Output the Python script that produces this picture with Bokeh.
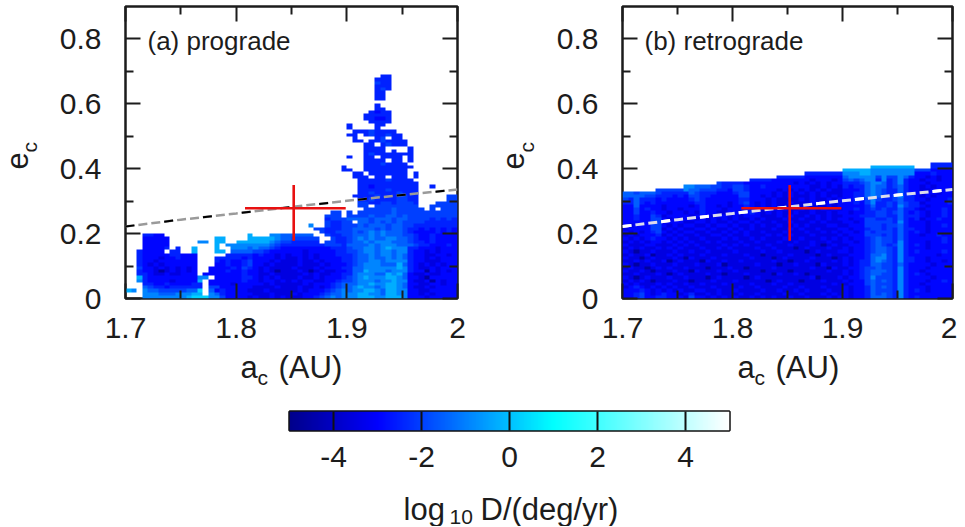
import numpy as np
from bokeh.plotting import figure
from bokeh.layouts import column, row
from bokeh.models import (LinearColorMapper, FixedTicker, LinearAxis, Label, Range1d)
from bokeh.embed import file_html
from bokeh.resources import INLINE

# log10 D value of each grid code; '.' means no cell
code_values = {"1": -4.6, "2": -3.5, "3": -2.9, "4": -2.5, "5": -2.0, "6": -1.5,
               "7": -0.9, "8": -0.3, "9": 0.3}
E = ".........."
# one string per eccentricity row, top row first; 60 cells of 0.005 AU, rows of 0.01
prograde_top_row = 68
prograde_rows = [
 E+E+E+E+"......44.."+E,
 E+E+E+E+".....444.."+E,
 E+E+E+E+".....544.."+E,
 E+E+E+E+".....444.."+E,
 E+E+E+E+".....454.."+E,
 E+E+E+E+".....44..."+E,
 E+E+E+E+".....44..."+E,
 E+E+E+E+".....44..."+E,
 E+E+E+E+E+E,
 E+E+E+E+".....4...."+E,
 E+E+E+E+".....44..."+E,
 E+E+E+E+"....4344.."+E,
 E+E+E+E+"...44444.."+E,
 E+E+E+E+"...44334.."+E,
 E+E+E+E+"....4444.."+E,
 E+E+E+E+"4....44..."+E,
 E+E+E+E+"4....4...."+E,
 E+E+E+E+".44454444."+E,
 E+E+E+E+"44.4544544"+E,
 E+E+E+E+".4...45.44"+E,
 E+E+E+E+".44.445444"+"4.........",
 E+E+E+E+"...44.4544"+"4.........",
 E+E+E+E+"...4444..."+".4........",
 E+E+E+E+"...4444.4."+".4........",
 E+E+E+E+"...4544444"+"44........",
 E+E+E+E+"4..44.4444"+".4........",
 E+E+E+E+"...4444.44"+".4........",
 E+E+E+E+"...4445444"+"4.........",
 E+E+E+".........4"+"...4444444"+"44........",
 E+E+E+".........4"+"4..4444444"+"4.........",
 E+E+E+E+".44.444444"+"4.4.......",
 E+E+E+E+".444.44.44"+"4.4.......",
 E+E+E+E+"..44444544"+"44........",
 E+E+E+E+"..44444444"+"444.......",
 E+E+E+E+"..44344444"+"444..4....",
 E+E+E+E+"..44444544"+"444.......",
 E+E+E+E+"..44544445"+"444.......",
 E+E+E+E+".444454445"+"544.....55",
 E+E+E+E+"..44544445"+"544.....55",
 E+E+E+E+"..55445545"+"554...5555",
 E+E+E+E+"..55.55555"+"555..55555",
 E+E+E+E+"...5555565"+"5555.5.555",
 E+E+E+".......55."+"5.55555565"+"5555555555",
 E+E+E+"......555."+"5555655665"+"6555555555",
 E+E+E+"......4555"+"6666566656"+"6555545454",
 E+E+E+"......5445"+"5.66565656"+"5555444444",
 E+E+E+"...7..5445"+"5565666566"+"5544444444",
 E+E+E+"....554445"+"5666656566"+"5443434343",
 E+E+E+".....54455"+"5656767666"+"5433334343",
 "...4433..."+E+"..8...7766"+"6666..5445"+"5666767666"+"5543343333",
 "...33333.."+"......88.."+"..88888766"+"55555..544"+"5676766776"+"6543343333",
 "...33333.."+"...77.88.."+"8888887655"+"44444.5544"+"5667677766"+"6544343333",
 "...33333.."+"......8.77"+"7777776544"+"4444445554"+"6666767776"+"6654433343",
 "...33334.4"+"..8...8..7"+"7767665433"+"3333333444"+"5667767877"+"7443332333",
 "..43333.44"+"..8...88.6"+"6665543333"+"3323333344"+"5567767767"+"7433232333",
 "..43333344"+"333.....44"+"4443433232"+"3323233344"+"4566767767"+"6433223323",
 "..43332334"+"333...4444"+"4343333232"+"2323233334"+"4566766767"+"6433232333",
 "..43323333"+"333...4343"+"3453332322"+"2322323334"+"4566776777"+"7433222333",
 "..43232333"+"333...3343"+"3453323222"+"2322232333"+"4567776668"+"6432323233",
 "..53323232"+"323..33334"+"3543232222"+"3222323334"+"4667777778"+"7432232333",
 "..43321232"+"323..33343"+"3433232122"+"2321232233"+"4668777677"+"7433132323",
 "..44322322"+"333.333333"+"3433223222"+"2232322334"+"4677766878"+"6322322333",
 "..84333333"+"33377.3333"+"3443232322"+"2322323334"+"5678777887"+"6332133333",
 "..74333323"+"3338.33333"+"3433233232"+"3233223345"+"5677767787"+"7322313233",
 "...4433433"+"3344.33332"+"3333323222"+"2232333456"+"6677877887"+"6332233233",
 "...6544344"+"4444.55333"+"3332222322"+"2322323456"+"6787767887"+"6322323333",
 "87.7665555"+"5669.63433"+"3322232222"+"2323334567"+"6778876887"+"7332233333",
 "...7776667"+"7788.76433"+"3332223222"+"3233345667"+"7788776887"+"7332323333",
 "...7777777"+"7899977533"+"3323223232"+"2233456767"+"7788877888"+"7333233333",
]
retrograde_top_row = 41
retrograde_rows = [
 E+E+E+E+E+"......4444",
 E+E+E+E+".....88888"+"888...4444",
 E+E+E+E+"8888877777"+"7775553333",
 E+E+E+"...4444444"+"7778877777"+"7773334333",
 E+E+"........44"+"4443333333"+"6777775755"+"7643323233",
 E+E+"...4444333"+"3333233323"+"5656774745"+"7433233233",
 E+".......544"+"4433333333"+"3232323233"+"4445677645"+"7433323333",
 E+".776665544"+"5543343333"+"3333223232"+"4344676645"+"6433232333",
 "......5555"+"5766555443"+"5543333323"+"2323232322"+"3334676544"+"6433223333",
 "6656665444"+"4465444333"+"4553333232"+"3232323222"+"3344676544"+"6433233233",
 "6666554443"+"4355443333"+"3553323232"+"3222323232"+"3344676545"+"7443232333",
 "5464443433"+"3345433333"+"3443332322"+"2232322323"+"3343575445"+"6443323334",
 "4464343333"+"3334433332"+"3453232322"+"3222332323"+"3343574454"+"6544233334",
 "3363333233"+"3323433232"+"3343232322"+"2323222323"+"3333464454"+"7544323333",
 "3353433233"+"2333433323"+"3343322323"+"2232323232"+"3343454544"+"6443233343",
 "3353343323"+"3232433223"+"3234323232"+"2322322323"+"3233445545"+"6434323343",
 "3343354233"+"3323332332"+"3233322232"+"3223232322"+"3334445544"+"6444323343",
 "3343355323"+"2332323232"+"3223232223"+"2232232323"+"3233554454"+"6434233433",
 "3333355233"+"3223323223"+"2332322322"+"3222323222"+"3323555554"+"7433323333",
 "3233355323"+"2332232332"+"3223232232"+"2323222332"+"2333555455"+"6433323343",
 "2333355232"+"3223323223"+"2323222322"+"3232232223"+"3233455454"+"6443323333",
 "3232345323"+"2332232232"+"3232232223"+"2223223232"+"3323545554"+"6434323333",
 "2323334232"+"3223223323"+"2232223232"+"3222322223"+"2333555454"+"6433233433",
 "3232343323"+"2322322232"+"3223232223"+"2232223232"+"3233456554"+"6433333343",
 "2323233232"+"3232232322"+"2322322232"+"2322322322"+"3323456554"+"7433323343",
 "3222332223"+"2323222232"+"3232223222"+"3222321232"+"2333456545"+"7434323333",
 "2323223232"+"3222322323"+"2222322322"+"2123222322"+"3233456654"+"7433323333",
 "3212232223"+"2232232222"+"3222232232"+"2221232223"+"3233456654"+"7434333343",
 "2322312232"+"3222322232"+"2232212222"+"3222212322"+"2333466754"+"7433333233",
 "3221232223"+"2132223222"+"2223222123"+"2222322212"+"3233467754"+"7443323333",
 "2232322312"+"3222132232"+"2322222322"+"1223222232"+"3234467654"+"7443323323",
 "3212232223"+"2223222312"+"2222322212"+"2322213222"+"3234466554"+"6433332333",
 "2322123232"+"2322212223"+"2212222322"+"2222322132"+"2334556554"+"7433323333",
 "3223212223"+"2213222322"+"3222212222"+"1222222322"+"3234566654"+"7433233333",
 "2232223212"+"3222232212"+"2232222132"+"2321222222"+"3234566554"+"7434323333",
 "3212322232"+"2322212322"+"2212322222"+"2222312223"+"2334575554"+"7433332333",
 "2323212223"+"2212223222"+"3222221232"+"2212223222"+"3233565654"+"7433323343",
 "3232223232"+"2322322232"+"2223222322"+"3222222232"+"2333565554"+"7433233333",
 "2343232323"+"2232223222"+"2322322223"+"2232223222"+"3233465654"+"7433323333",
 "3334323232"+"3223322322"+"3222232232"+"2323222322"+"3233465554"+"7434323333",
 "3345323433"+"2342232322"+"2322322223"+"2232223232"+"3233465654"+"7433333333",
 "3345334433"+"3253323232"+"3223232322"+"3223222323"+"3233466654"+"7434333333",
]
# the constant-perihelion curve and the object with its error bars
curve_a = [1.7, 1.75, 1.8, 1.85, 1.9, 1.95, 2.0]
curve_e = [0.222, 0.243, 0.262, 0.282, 0.301, 0.319, 0.336]
obj_a, obj_e = 1.852, 0.278
obj_a_range = [1.808, 1.899]
obj_e_range = [0.178, 0.350]

x_ticks = [1.7, 1.8, 1.9, 2.0]
x_minor = [1.75, 1.85, 1.95]
x_labels = {1.7: "1.7", 1.8: "1.8", 1.9: "1.9", 2.0: "2"}
y_ticks = [0, 0.2, 0.4, 0.6, 0.8]
y_minor = [0.1, 0.3, 0.5, 0.7]
y_labels = {0: "0", 0.2: "0.2", 0.4: "0.4", 0.6: "0.6", 0.8: "0.8"}
cb_ticks = [-4, -2, 0, 2, 4]
cb_labels = {-4: "-4", -2: "-2", 0: "0", 2: "2", 4: "4"}
panel_titles = ["(a) prograde", "(b) retrograde"]

FONT = "Liberation Sans"
INK = "#1c1c1c"
TICK_SIZE = "30px"
BIG, SMALL = "31px", "21px"

anchors = [(-5, (0, 0, 139)), (-3, (0, 0, 255)), (-1, (0, 128, 255)),
           (1, (0, 255, 255)), (5, (255, 255, 255))]
levels = np.linspace(-5, 5, 256)
xs = [a[0] for a in anchors]
pal = ["#%02x%02x%02x" % tuple(int(round(np.interp(v, xs, [a[1][k] for a in anchors]))) for k in range(3))
       for v in levels]
mapper = LinearColorMapper(palette=pal, low=-5, high=5, nan_color=(0, 0, 0, 0))


def grid(rows, top):
    out = np.full((90, 60), np.nan, dtype=float)
    for n, r in enumerate(rows):
        for c, ch in enumerate(r[:60]):
            if ch in code_values:
                out[top - n, c] = code_values[ch]
    return out


def style(ax, labels):
    ax.major_tick_in = 15
    ax.major_tick_out = 0
    ax.minor_tick_in = 8
    ax.minor_tick_out = 0
    ax.major_tick_line_width = 2
    ax.minor_tick_line_width = 2
    ax.major_tick_line_color = INK
    ax.minor_tick_line_color = INK
    ax.axis_line_color = None
    if labels:
        ax.major_label_text_font = FONT
        ax.major_label_text_font_size = TICK_SIZE
        ax.major_label_text_color = INK


def label(p, text, px, py, size, angle=0.0):
    p.add_layout(Label(x=px, y=py, text=text, text_font=FONT, text_font_size=size, text_color=INK,
                       angle=angle, text_align="left", text_baseline="alphabetic"))


def strip(x_left, y_top, w, h, items):
    """A bare figure whose frame is a piece of the page, holding text given in page pixels."""
    s = figure(output_backend="svg", toolbar_location=None, frame_width=w, frame_height=h,
               x_range=Range1d(x_left, x_left + w), y_range=Range1d(y_top + h, y_top),
               x_axis_location=None, y_axis_location=None,
               min_border_left=0, min_border_right=0, min_border_top=0, min_border_bottom=0,
               border_fill_color=None, background_fill_color=None)
    s.grid.visible = False
    s.outline_line_color = None
    for it in items:
        label(s, *it)
    return s


def panel(rows, top, title, frame_w, left, right, halo, halo_w, core, core_w):
    p = figure(output_backend="svg", toolbar_location=None, frame_width=frame_w, frame_height=292,
               x_range=Range1d(1.7, 2.0), y_range=Range1d(0, 0.9),
               min_border_left=left, min_border_right=right, min_border_top=6, min_border_bottom=50,
               background_fill_color="white", border_fill_color=None)
    p.grid.visible = False
    p.outline_line_color = INK
    p.outline_line_width = 2.5
    p.image(image=[grid(rows, top)], x=1.7, y=0, dw=0.3, dh=0.9, color_mapper=mapper, level="image")
    p.line(curve_a, curve_e, line_color=halo, line_width=halo_w, line_dash="9 4")
    p.line(curve_a, curve_e, line_color=core, line_width=core_w, line_dash="9 30")
    p.line(obj_a_range, [obj_e, obj_e], line_color="#e81010", line_width=2.6)
    p.line([obj_a, obj_a], obj_e_range, line_color="#e81010", line_width=2.6)

    xa, ya = p.xaxis[0], p.yaxis[0]
    style(xa, True)
    style(ya, True)
    xa.ticker = FixedTicker(ticks=x_ticks, minor_ticks=x_minor)
    xa.major_label_overrides = x_labels
    xa.major_label_standoff = 19
    ya.ticker = FixedTicker(ticks=y_ticks, minor_ticks=y_minor)
    ya.major_label_overrides = y_labels
    ya.major_label_standoff = 24
    top_ax = LinearAxis(ticker=FixedTicker(ticks=x_ticks, minor_ticks=x_minor),
                        major_label_overrides={t: "" for t in x_ticks}, major_label_standoff=0,
                        major_label_text_font_size="1px")
    right_ax = LinearAxis(ticker=FixedTicker(ticks=y_ticks, minor_ticks=y_minor),
                          major_label_overrides={t: "" for t in y_ticks}, major_label_standoff=0,
                          major_label_text_font_size="1px")
    style(top_ax, False)
    style(right_ax, False)
    p.add_layout(top_ax, "above")
    p.add_layout(right_ax, "right")
    label(p, title, 1.7 + 22 / (frame_w / 0.3), (298 - 40) / 292 * 0.9, "26px")
    return p


p1 = panel(prograde_rows, prograde_top_row, panel_titles[0], 332, 80, 20, "#9a9a9a", 2.5, "#000000", 2)
p2 = panel(retrograde_rows, retrograde_top_row, panel_titles[1], 330, 77, 5, "#dcdcec", 3, "#ffffff", 3)

e_left = strip(0, 0, 45, 348, [("e", 16, 163, BIG, np.pi / 2), ("c", 29, 146, SMALL, np.pi / 2)])
e_mid = strip(477, 0, 68, 348, [("e", 512, 163, BIG, np.pi / 2), ("c", 526, 146, SMALL, np.pi / 2)])
x_titles = strip(0, 348, 949, 54, [
    ("a", 240, 367, BIG), ("c", 257, 377, SMALL), ("(AU)", 278, 367, BIG),
    ("a", 737, 367, BIG), ("c", 754, 377, SMALL), ("(AU)", 775, 367, BIG)])

p3 = figure(output_backend="svg", toolbar_location=None, frame_width=440, frame_height=19,
            x_range=Range1d(-5, 5), y_range=Range1d(0, 1),
            min_border_left=289, min_border_right=5, min_border_top=9, min_border_bottom=52,
            border_fill_color=None)
p3.grid.visible = False
p3.outline_line_color = "#111111"
p3.outline_line_width = 2.5
p3.yaxis.visible = False
p3.image(image=[levels.reshape(1, -1)], x=-5, y=0, dw=10, dh=1, color_mapper=mapper, level="image")
ax3 = p3.xaxis[0]
style(ax3, True)
ax3.ticker = FixedTicker(ticks=cb_ticks, minor_ticks=[])
ax3.major_tick_in = 19
ax3.major_tick_line_color = "#111111"
ax3.major_label_overrides = cb_labels
ax3.major_label_standoff = 16

cb_title = strip(0, 482, 949, 44, [("log", 403, 509, BIG), ("10", 449, 516, SMALL), ("D/(deg/yr)", 480, 509, BIG)])

page = column(row(e_left, p1, e_mid, p2), row(x_titles), row(p3), row(cb_title))
open("out.html", "w").write(file_html(page, INLINE))
